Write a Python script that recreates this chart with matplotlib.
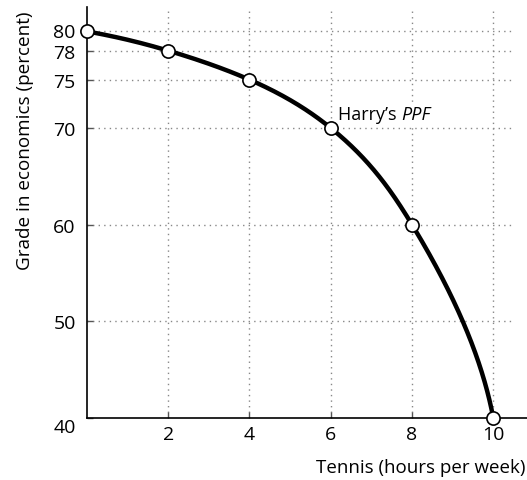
import numpy as np
import matplotlib
matplotlib.use("Agg")
import matplotlib.pyplot as plt
import matplotlib.transforms as mtransforms

tennis_hours = [0, 2, 4, 6, 8, 10]
grade = [80, 78, 75, 70, 60, 40]
x_ticks = [2, 4, 6, 8, 10]
y_ticks = [40, 50, 60, 70, 75, 78, 80]

plt.rcParams['font.family'] = ['Open Sans', 'DejaVu Sans']

fig = plt.figure(figsize=(5.27, 4.81), dpi=100)
ax = fig.add_axes([0.165, 0.129, 0.835, 0.854])
xmax, ymax = 10.83, 82.5
ax.set_xlim(0, xmax)
ax.set_ylim(40, ymax)


def clamped_spline(t, v, d0, d1, tt):
    """Cubic spline through (t, v) with end slopes d0, d1."""
    t = np.asarray(t, float)
    v = np.asarray(v, float)
    n = len(t)
    h = np.diff(t)
    A = np.zeros((n, n))
    b = np.zeros(n)
    A[0, 0] = 2 * h[0]
    A[0, 1] = h[0]
    b[0] = 6 * ((v[1] - v[0]) / h[0] - d0)
    A[-1, -2] = h[-1]
    A[-1, -1] = 2 * h[-1]
    b[-1] = 6 * (d1 - (v[-1] - v[-2]) / h[-1])
    for i in range(1, n - 1):
        A[i, i - 1] = h[i - 1]
        A[i, i] = 2 * (h[i - 1] + h[i])
        A[i, i + 1] = h[i]
        b[i] = 6 * ((v[i + 1] - v[i]) / h[i] - (v[i] - v[i - 1]) / h[i - 1])
    M = np.linalg.solve(A, b)
    out = np.empty_like(tt)
    for k, x in enumerate(tt):
        i = min(max(np.searchsorted(t, x) - 1, 0), n - 2)
        a = t[i + 1] - x
        c = x - t[i]
        out[k] = (M[i] * a ** 3 / (6 * h[i]) + M[i + 1] * c ** 3 / (6 * h[i])
                  + (v[i] / h[i] - M[i] * h[i] / 6) * a
                  + (v[i + 1] / h[i] - M[i + 1] * h[i] / 6) * c)
    return out

# smooth curve: hours as a function of grade (monotone), through the data points
order = np.argsort(grade)
gy = np.asarray(grade, float)[order]
hx = np.asarray(tennis_hours, float)[order]
yy = np.linspace(gy[0], gy[-1], 600)
xx = clamped_spline(gy, hx, -0.045, -1.3, yy)

# grid (dotted)
grid_kw = dict(color='#888888', linestyle=(0, (1, 3)), linewidth=1.0, zorder=1)
for yv in y_ticks[1:]:
    ax.hlines(yv, 0, 10.5, **grid_kw)
for xv in x_ticks:
    ax.vlines(xv, 40, ymax, **grid_kw)

ax.plot(xx, yy, color='black', linewidth=3.2, zorder=3, solid_capstyle='round')
ax.plot(tennis_hours, grade, linestyle='none', marker='o', markersize=9.5,
        markerfacecolor='white', markeredgecolor='black', markeredgewidth=1.2,
        zorder=4, clip_on=False)

for s in ['top', 'right']:
    ax.spines[s].set_visible(False)
for s in ['left', 'bottom']:
    ax.spines[s].set_linewidth(1.2)

ax.set_xticks(x_ticks)
ax.set_xticklabels([str(v) for v in x_ticks])
ax.set_yticks(y_ticks)
ax.set_yticklabels([str(v) for v in y_ticks])
ax.tick_params(direction='in', length=4, width=1, color='#555555',
               labelsize=14, pad=5)
ax.tick_params(axis='y', pad=8)
lbls = ax.get_yticklabels()
lbls[0].set_transform(lbls[0].get_transform() + mtransforms.ScaledTranslation(0, -5 / 72, fig.dpi_scale_trans))
lbls[-1].set_transform(lbls[-1].get_transform() + mtransforms.ScaledTranslation(0, 1 / 72, fig.dpi_scale_trans))

t1 = ax.text(6.18, 71.4, "Harry\u2019s ", fontsize=13, va='center', ha='left', zorder=2,
             bbox=dict(facecolor='white', edgecolor='none', pad=1))
ax.annotate("PPF", xy=(1, 0.5), xycoords=t1, va='center', ha='left', fontsize=13,
            style='italic', zorder=2,
            bbox=dict(facecolor='white', edgecolor='none', pad=1))

fig.text(0.047, 0.707, "Grade in economics (percent)", rotation=90, fontsize=13.6,
         ha='center', va='center')
fig.text(0.998, 0.027, "Tennis (hours per week)", fontsize=13.5, ha='right', va='center')

fig.savefig("out.png", dpi=100)
